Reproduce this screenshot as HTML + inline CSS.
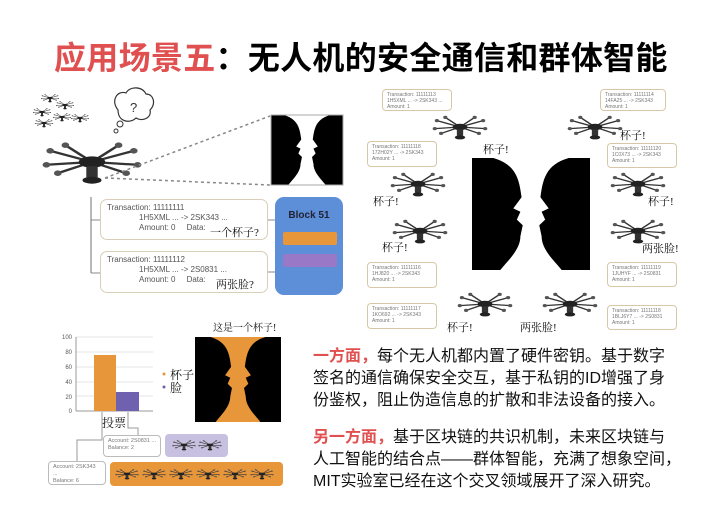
<!DOCTYPE html>
<html><head><meta charset="utf-8">
<style>
body{margin:0;width:720px;height:509px;background:#fff;position:relative;overflow:hidden;font-family:"Liberation Sans","Noto Sans CJK SC",sans-serif;}
.a{position:absolute;}
.t{font-size:32px;font-weight:bold;top:33px;left:54px;white-space:nowrap;letter-spacing:0.3px}
.tx{position:absolute;border:1px solid #d8c8a8;border-radius:4px;background:#fff;font-size:5px;line-height:6px;color:#777;padding:2px 4px;box-sizing:border-box}
.lab{position:absolute;font-family:"Liberation Serif","Noto Serif CJK SC",serif;font-size:11px;color:#111;white-space:nowrap}
.big{position:absolute;border:1.5px solid #d9cfb8;border-radius:7px;background:#fff;font-size:8px;color:#555;line-height:10px;box-sizing:border-box;padding:3px 6px}
.p{position:absolute;left:313px;font-size:16px;line-height:22px;color:#111;white-space:nowrap;font-family:"Liberation Sans","Noto Sans CJK SC",sans-serif}
.r{color:#e05050;font-weight:bold}
</style></head><body>
<svg width="0" height="0" style="position:absolute">
<defs>
<g id="dr">
<g stroke="#333" stroke-width="1.6" fill="none">
<line x1="0" y1="0" x2="-22" y2="-8"/><line x1="0" y1="0" x2="22" y2="-8"/>
<line x1="0" y1="0" x2="-24" y2="2"/><line x1="0" y1="0" x2="24" y2="2"/>
<line x1="0" y1="0" x2="-14" y2="-12"/><line x1="0" y1="0" x2="14" y2="-12"/>
<line x1="0" y1="0" x2="-18" y2="8"/><line x1="0" y1="0" x2="18" y2="8"/>
</g>
<g fill="#555"><circle cx="-22" cy="-8" r="2"/><circle cx="22" cy="-8" r="2"/><circle cx="-24" cy="2" r="2"/><circle cx="24" cy="2" r="2"/><circle cx="-14" cy="-12" r="2"/><circle cx="14" cy="-12" r="2"/><circle cx="-18" cy="8" r="2"/><circle cx="18" cy="8" r="2"/></g>
<ellipse cx="0" cy="0" rx="7" ry="4" fill="#222"/>
<rect x="-3" y="3" width="6" height="8" fill="#333"/>
<ellipse cx="0" cy="13" rx="5" ry="2.5" fill="#222"/>
</g>
<path id="vase" d="M0 0 H100 V100 H0 Z M18 0 C38 6 40 20 42 35 L35 45 L41 48 L38 55 L43 60 L41 70 C41 82 30 92 24 100 H76 C70 92 59 82 59 70 L57 60 L62 55 L59 48 L65 45 L58 35 C60 20 62 6 82 0 Z" fill-rule="evenodd"/>
</defs>
</svg>

<div class="a t"><span style="color:#e05050">应用场景五</span>：无人机的安全通信和群体智能</div>

<!-- top-left -->
<svg class="a" style="left:0;top:0" width="360" height="330">
<g transform="translate(50,98) scale(0.35,0.28)"><use href="#dr"/></g>
<g transform="translate(65,105) scale(0.35,0.28)"><use href="#dr"/></g>
<g transform="translate(42,112) scale(0.35,0.28)"><use href="#dr"/></g>
<g transform="translate(62,117) scale(0.35,0.28)"><use href="#dr"/></g>
<g transform="translate(80,118) scale(0.35,0.28)"><use href="#dr"/></g>
<g transform="translate(44,123) scale(0.35,0.28)"><use href="#dr"/></g>
<g transform="translate(92,162) scale(1.9,1.4)"><use href="#dr"/></g>
<path d="M118 110 C110 100 118 90 126 93 C130 86 142 86 146 94 C154 94 156 104 150 110 C152 118 142 122 136 118 C130 124 118 122 118 110 Z" fill="#fff" stroke="#333" stroke-width="1.2"/>
<text x="130" y="112" font-size="13" fill="#333" font-family="Liberation Sans">?</text>
<circle cx="120" cy="124" r="3" fill="#fff" stroke="#333"/>
<circle cx="116" cy="131" r="2" fill="#fff" stroke="#333"/>
<line x1="105" y1="178" x2="270" y2="116" stroke="#888" stroke-dasharray="3,3" stroke-width="1.5"/>
<line x1="105" y1="178" x2="270" y2="185" stroke="#888" stroke-dasharray="3,3" stroke-width="1.5"/>
<g transform="translate(271,115) scale(0.72,0.70)"><use href="#vase" fill="#000"/></g>
<rect x="271" y="115" width="72" height="70" fill="none" stroke="#aaa"/>
<line x1="91" y1="197" x2="91" y2="273" stroke="#888" stroke-width="1.2"/>
<line x1="91" y1="220" x2="100" y2="220" stroke="#888"/>
<line x1="91" y1="273" x2="100" y2="273" stroke="#888"/>
<line x1="267" y1="220" x2="277" y2="220" stroke="#888"/>
<line x1="267" y1="272" x2="277" y2="272" stroke="#888"/>
</svg>
<div class="big" style="left:100px;top:199px;width:168px;height:41px">Transaction: 11111111<br><span style="margin-left:32px">1H5XML ... -&gt; 2SK343 ...</span><br><span style="margin-left:32px">Amount: 0 &nbsp;&nbsp;&nbsp;&nbsp;Data:</span></div>
<div class="lab" style="left:210px;top:224px">一个杯子?</div>
<div class="big" style="left:100px;top:251px;width:168px;height:42px">Transaction: 11111112<br><span style="margin-left:32px">1H5XML ... -&gt; 2S0831 ...</span><br><span style="margin-left:32px">Amount: 0 &nbsp;&nbsp;&nbsp;&nbsp;Data:</span></div>
<div class="lab" style="left:216px;top:276px">两张脸?</div>
<div class="a" style="left:275px;top:197px;width:68px;height:98px;background:#5d8ed8;border-radius:9px"></div>
<div class="a" style="left:275px;top:210px;width:68px;text-align:center;font-size:10px;font-weight:bold;color:#223">Block 51</div>
<div class="a" style="left:283px;top:232px;width:54px;height:13px;background:#e8963a;border-radius:2px"></div>
<div class="a" style="left:283px;top:254px;width:54px;height:13px;background:#9a78c8;border-radius:2px"></div>

<!-- right panel -->
<svg class="a" style="left:360px;top:80px" width="345" height="255">
<g transform="translate(112,78) scale(1.18,1.12)"><use href="#vase" fill="#000"/></g>
<g transform="translate(100,47) scale(1.05,0.8)"><use href="#dr"/></g>
<g transform="translate(235,47) scale(1.05,0.8)"><use href="#dr"/></g>
<g transform="translate(58,104) scale(1.05,0.8)"><use href="#dr"/></g>
<g transform="translate(278,104) scale(1.05,0.8)"><use href="#dr"/></g>
<g transform="translate(60,151) scale(1.05,0.8)"><use href="#dr"/></g>
<g transform="translate(278,151) scale(1.05,0.8)"><use href="#dr"/></g>
<g transform="translate(125,224) scale(1.05,0.8)"><use href="#dr"/></g>
<g transform="translate(210,224) scale(1.05,0.8)"><use href="#dr"/></g>
</svg>
<div class="tx" style="left:382px;top:89px;width:70px;height:22px">Transaction: 11111113<br>1H5XML ... -&gt; 2SK343 ...<br>Amount: 1</div>
<div class="tx" style="left:600px;top:89px;width:66px;height:22px">Transaction: 11111114<br>14FA25 ... -&gt; 2SK343<br>Amount: 1</div>
<div class="tx" style="left:367px;top:141px;width:70px;height:26px">Transaction: 11111118<br>172H02Y ... -&gt; 2SK343<br>Amount: 1</div>
<div class="tx" style="left:607px;top:143px;width:70px;height:25px">Transaction: 11111120<br>1C0X73 ... -&gt; 2SK343<br>Amount: 1</div>
<div class="tx" style="left:367px;top:262px;width:70px;height:26px">Transaction: 11111116<br>1HJ820 ... -&gt; 2SK343<br>Amount: 1</div>
<div class="tx" style="left:607px;top:262px;width:70px;height:25px">Transaction: 11111119<br>1JUHYF ... -&gt; 2S0831<br>Amount: 1</div>
<div class="tx" style="left:367px;top:303px;width:70px;height:26px">Transaction: 11111117<br>1KO692 ... -&gt; 2SK343<br>Amount: 1</div>
<div class="tx" style="left:607px;top:305px;width:70px;height:25px">Transaction: 11111118<br>1BLJ6Y7 ... -&gt; 2S0831<br>Amount: 1</div>
<div class="lab" style="left:483px;top:141px">杯子!</div>
<div class="lab" style="left:620px;top:127px">杯子!</div>
<div class="lab" style="left:373px;top:193px">杯子!</div>
<div class="lab" style="left:648px;top:193px">杯子!</div>
<div class="lab" style="left:382px;top:239px">杯子!</div>
<div class="lab" style="left:642px;top:240px">两张脸!</div>
<div class="lab" style="left:447px;top:319px">杯子!</div>
<div class="lab" style="left:520px;top:319px">两张脸!</div>

<!-- bottom-left chart -->
<svg class="a" style="left:0;top:325px" width="300" height="184">
<g font-size="6" fill="#555" font-family="Liberation Sans" text-anchor="end">
<text x="72" y="14">100</text><text x="72" y="29">80</text><text x="72" y="44">60</text><text x="72" y="59">40</text><text x="72" y="74">20</text><text x="72" y="88">0</text>
</g>
<g stroke="#ddd" stroke-width="0.7"><line x1="76" y1="12" x2="153" y2="12"/><line x1="76" y1="27" x2="153" y2="27"/><line x1="76" y1="42" x2="153" y2="42"/><line x1="76" y1="57" x2="153" y2="57"/><line x1="76" y1="71" x2="153" y2="71"/></g>
<line x1="76" y1="86" x2="153" y2="86" stroke="#999"/>
<line x1="76" y1="12" x2="76" y2="86" stroke="#999"/>
<rect x="94" y="30" width="22" height="56" fill="#e8963a"/>
<rect x="116" y="67" width="23" height="19" fill="#7060b0"/>
<circle cx="164" cy="49" r="1.5" fill="#e8963a"/><circle cx="164" cy="62" r="1.5" fill="#7060b0"/>
<g transform="translate(195,12) scale(0.86,0.85)"><rect x="0" y="0" width="100" height="100" fill="#e8963a"/><use href="#vase" fill="#000"/></g>
<polyline points="77,150 77,115 102,115 102,87" fill="none" stroke="#999"/>
<polyline points="138,112 138,103 128,103 128,87" fill="none" stroke="#999"/>
<rect x="165" y="109" width="63" height="23" rx="4" fill="#c8c0e0"/>
<rect x="110" y="137" width="173" height="24" rx="4" fill="#e8963a"/>
<g transform="translate(184,120) scale(0.45,0.35)"><use href="#dr"/></g>
<g transform="translate(210,120) scale(0.45,0.35)"><use href="#dr"/></g>
<g transform="translate(127,149) scale(0.45,0.35)"><use href="#dr"/></g>
<g transform="translate(154,149) scale(0.45,0.35)"><use href="#dr"/></g>
<g transform="translate(181,149) scale(0.45,0.35)"><use href="#dr"/></g>
<g transform="translate(208,149) scale(0.45,0.35)"><use href="#dr"/></g>
<g transform="translate(235,149) scale(0.45,0.35)"><use href="#dr"/></g>
<g transform="translate(262,149) scale(0.45,0.35)"><use href="#dr"/></g>
</svg>
<div class="lab" style="left:170px;top:366px;font-size:12px">杯子</div>
<div class="lab" style="left:170px;top:379px;font-size:12px">脸</div>
<div class="lab" style="left:213px;top:319px;font-size:10px">这是一个杯子!</div>
<div class="lab" style="left:102px;top:414px;font-size:12px">投票</div>
<div class="tx" style="left:103px;top:435px;width:58px;height:22px;font-size:5.5px;line-height:7px;border-color:#bbb">Account: 2S0831 ...<br>Balance: 2</div>
<div class="tx" style="left:48px;top:461px;width:58px;height:24px;font-size:5.5px;line-height:7px;border-color:#bbb">Account: 2SK343 ...<br>Balance: 6</div>

<!-- text -->
<div class="p" style="top:346px"><span class="r">一方面，</span>每个无人机都内置了硬件密钥。基于数字</div>
<div class="p" style="top:368px">签名的通信确保安全交互，基于私钥的ID增强了身</div>
<div class="p" style="top:390px">份鉴权，阻止伪造信息的扩散和非法设备的接入。</div>
<div class="p" style="top:427px"><span class="r">另一方面，</span>基于区块链的共识机制，未来区块链与</div>
<div class="p" style="top:449px">人工智能的结合点——群体智能，充满了想象空间，</div>
<div class="p" style="top:471px">MIT实验室已经在这个交叉领域展开了深入研究。</div>
</body></html>
